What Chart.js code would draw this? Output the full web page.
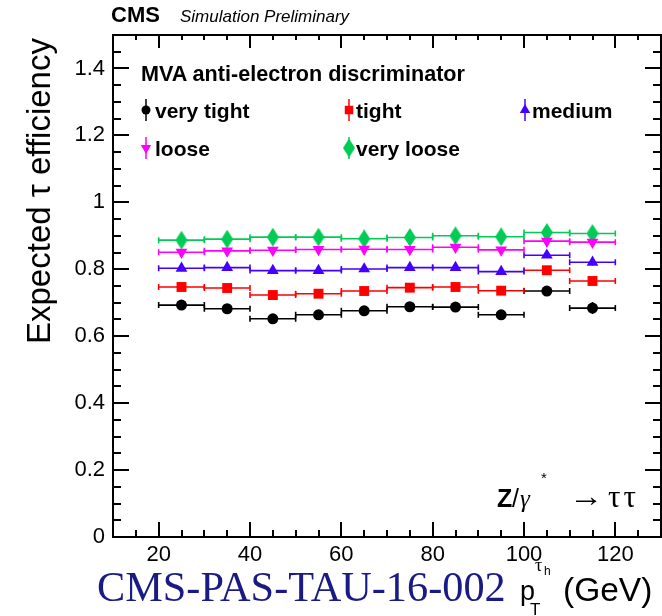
<!DOCTYPE html>
<html>
<head>
<meta charset="utf-8">
<script src="https://cdn.jsdelivr.net/npm/chart.js@4/dist/chart.umd.min.js"></script>
<style>
  html, body { margin:0; padding:0; background:#fff; }
  #wrap { position:relative; width:662px; height:616px; overflow:hidden; font-family:"Liberation Sans", Arial, sans-serif; }
  #c { position:absolute; left:0; top:0; }
  .t { position:absolute; white-space:nowrap; line-height:1; color:#000; }
  .b { font-weight:bold; }
</style>
</head>
<body>
<div id="wrap">
  <canvas id="c" width="662" height="616"></canvas>

  <div class="t b" style="left:111px;top:4px;font-size:22px">CMS</div>
  <div class="t" style="left:180px;top:8px;font-size:17px;font-style:italic">Simulation Preliminary</div>

  <div class="t b" style="left:141px;top:63px;font-size:21.6px">MVA anti-electron discriminator</div>
  <div class="t b" style="left:155px;top:100px;font-size:21px">very tight</div>
  <div class="t b" style="left:356px;top:100px;font-size:21px">tight</div>
  <div class="t b" style="left:532px;top:100px;font-size:21px">medium</div>
  <div class="t b" style="left:155px;top:138px;font-size:21px">loose</div>
  <div class="t b" style="left:356px;top:138px;font-size:21px">very loose</div>

  <div class="t b" style="left:497px;top:486px;font-size:25px">Z</div>
  <div class="t" style="left:512px;top:486px;font-size:25px">/</div>
  <div class="t" style="left:520px;top:486px;font-size:25px;font-family:'Liberation Serif',serif;font-style:italic">γ</div>
  <div class="t" style="left:541px;top:470px;font-size:15px">*</div>
  <div class="t" style="left:569px;top:481px;font-size:30px;font-family:'Liberation Serif',serif;transform:scaleX(1.15);transform-origin:0 0">→</div>
  <div class="t" style="left:608px;top:481px;font-size:31px;font-family:'Liberation Serif',serif;letter-spacing:3px">ττ</div>

  <div class="t" id="ytitle" style="font-size:33px">Expected τ efficiency</div>

  <div class="t" style="left:97px;top:566px;font-size:42.3px;font-family:'Liberation Serif','Times New Roman',serif;color:#1a1a85">CMS-PAS-TAU-16-002</div>
  <div class="t" style="left:520px;top:578px;font-size:27px">p</div>
  <div class="t" style="left:535px;top:556px;font-size:18px;font-family:'Liberation Serif',serif">τ</div>
  <div class="t" style="left:544px;top:565px;font-size:12px">h</div>
  <div class="t" style="left:530px;top:601px;font-size:17px">T</div>
  <div class="t" style="left:563px;top:573px;font-size:33.5px">(GeV)</div>
</div>

<script>
// bins in pT (GeV)
const binCenters = [25, 35, 45, 55, 65, 75, 85, 95, 105, 115];
const binHalfWidth = 5;

// efficiencies per working point
const veryTight = [0.693, 0.682, 0.652, 0.664, 0.676, 0.688, 0.687, 0.664, 0.735, 0.684];
const tight     = [0.747, 0.744, 0.723, 0.727, 0.735, 0.745, 0.747, 0.736, 0.797, 0.765];
const medium    = [0.803, 0.805, 0.796, 0.796, 0.801, 0.805, 0.805, 0.793, 0.842, 0.821];
const loose     = [0.851, 0.855, 0.857, 0.859, 0.860, 0.859, 0.866, 0.858, 0.884, 0.881];
const veryLoose = [0.887, 0.890, 0.896, 0.896, 0.891, 0.895, 0.900, 0.897, 0.910, 0.907];

// stat. uncertainties
const veryTightErr = [0.004, 0.004, 0.004, 0.004, 0.004, 0.004, 0.005, 0.006, 0.008, 0.018];
const tightErr     = [0.004, 0.004, 0.004, 0.004, 0.004, 0.004, 0.004, 0.005, 0.007, 0.012];
const mediumErr    = [0.003, 0.003, 0.003, 0.003, 0.003, 0.003, 0.004, 0.004, 0.006, 0.010];
const looseErr     = [0.003, 0.003, 0.003, 0.003, 0.003, 0.003, 0.003, 0.004, 0.005, 0.007];
const veryLooseErr = [0.003, 0.003, 0.003, 0.003, 0.003, 0.003, 0.003, 0.003, 0.004, 0.006];

const xTicks = [20, 40, 60, 80, 100, 120];
const yTicks = [0, 0.2, 0.4, 0.6, 0.8, 1.0, 1.2, 1.4];
const yTickLabels = ['0', '0.2', '0.4', '0.6', '0.8', '1', '1.2', '1.4'];

// elongated diamond marker (ROOT style 33)
function diamond(color, w, h){
  const cv = document.createElement('canvas');
  cv.width = w; cv.height = h;
  const g = cv.getContext('2d');
  g.fillStyle = color;
  g.beginPath();
  g.moveTo(w / 2, 0); g.lineTo(w, h / 2); g.lineTo(w / 2, h); g.lineTo(0, h / 2); g.closePath();
  g.fill();
  return cv;
}

const series = [
  { label:'very tight', data:veryTight, err:veryTightErr, color:'#000000', style:'circle', r:5.5, lr:4.5, rot:0, lx:146, ly:110 },
  { label:'tight',      data:tight,     err:tightErr,     color:'#ff0000', style:'rect', r:7, lr:6, rot:0, lx:349, ly:110 },
  { label:'medium',     data:medium,    err:mediumErr,    color:'#4400ff', style:'triangle', r:6.8, lr:6, rot:0, lx:525, ly:110 },
  { label:'loose',      data:loose,     err:looseErr,     color:'#ff00ff', style:'triangle', r:6.8, lr:6, rot:180, lx:146, ly:148 },
  { label:'very loose', data:veryLoose, err:veryLooseErr, color:'#00cc55', style:diamond('#00cc55', 12, 19), r:7, lr:7, rot:0, lx:349, ly:148 }
];

// horizontal bin-width bars + vertical stat. errors
const errorBars = {
  id:'errorBars',
  beforeDatasetsDraw(chart){
    const { ctx, scales:{ x, y } } = chart;
    ctx.save();
    ctx.lineWidth = 1.6;
    series.forEach(s => {
      ctx.strokeStyle = s.color;
      s.data.forEach((v, i) => {
        const x0 = x.getPixelForValue(binCenters[i] - binHalfWidth);
        const x1 = x.getPixelForValue(binCenters[i] + binHalfWidth);
        const xc = x.getPixelForValue(binCenters[i]);
        const yp = y.getPixelForValue(v);
        ctx.beginPath();
        ctx.moveTo(x0, yp); ctx.lineTo(x1, yp);
        ctx.moveTo(x0, yp - 3); ctx.lineTo(x0, yp + 3);
        ctx.moveTo(x1, yp - 3); ctx.lineTo(x1, yp + 3);
        ctx.moveTo(xc, y.getPixelForValue(v - s.err[i]));
        ctx.lineTo(xc, y.getPixelForValue(v + s.err[i]));
        ctx.stroke();
      });
    });
    ctx.restore();
  }
};

// ROOT-like frame with inward ticks on all four sides
const frameTicks = {
  id:'frameTicks',
  afterDraw(chart){
    const { ctx, chartArea:a, scales:{ x, y } } = chart;
    ctx.save();
    ctx.strokeStyle = '#000';
    ctx.lineWidth = 2;
    ctx.strokeRect(a.left, a.top, a.right - a.left, a.bottom - a.top);
    ctx.beginPath();
    for (let v = 10; v <= 130; v += 5){
      const px = Math.round(x.getPixelForValue(v));
      const L = v % 20 === 0 ? 15 : 7;
      ctx.moveTo(px, a.bottom); ctx.lineTo(px, a.bottom - L);
      ctx.moveTo(px, a.top); ctx.lineTo(px, a.top + L - 2);
    }
    for (let i = 0; i <= 30; i++){
      const py = Math.round(y.getPixelForValue(i * 0.05));
      const L = i % 4 === 0 ? 16 : 8;
      ctx.moveTo(a.left, py); ctx.lineTo(a.left + L, py);
      ctx.moveTo(a.right, py); ctx.lineTo(a.right - L, py);
    }
    ctx.stroke();
    ctx.restore();
  }
};

// legend markers with a vertical error stroke
const legendMarks = {
  id:'legendMarks',
  afterDraw(chart){
    const ctx = chart.ctx;
    ctx.save();
    series.forEach(s => {
      ctx.strokeStyle = s.color;
      ctx.fillStyle = s.color;
      ctx.lineWidth = 1.5;
      ctx.beginPath();
      ctx.moveTo(s.lx, s.ly - 11); ctx.lineTo(s.lx, s.ly + 11);
      ctx.stroke();
      Chart.helpers.drawPoint(ctx, { pointStyle:s.style, radius:s.lr, rotation:s.rot, borderWidth:0 }, s.lx, s.ly);
    });
    ctx.restore();
  }
};

const tickFont = { family:'Liberation Sans, Arial, sans-serif', size:22 };

new Chart(document.getElementById('c'), {
  type:'scatter',
  data:{
    datasets: series.map(s => ({
      label:s.label,
      data:s.data.map((v, i) => ({ x:binCenters[i], y:v })),
      pointStyle:s.style,
      pointRadius:s.r,
      pointRotation:s.rot,
      pointBackgroundColor:s.color,
      pointBorderColor:s.color,
      pointBorderWidth:0,
      showLine:false
    }))
  },
  options:{
    responsive:false,
    animation:false,
    devicePixelRatio:1,
    layout:{ autoPadding:false, padding:{ top:35, right:1, left:0, bottom:0 } },
    plugins:{ legend:{ display:false }, tooltip:{ enabled:false } },
    scales:{
      x:{
        type:'linear', min:10, max:130,
        grid:{ display:false, drawTicks:false }, border:{ display:false },
        afterBuildTicks:s => { s.ticks = xTicks.map(v => ({ value:v })); },
        afterFit:s => { s.height = 79; s.paddingLeft = 0; s.paddingRight = 0; },
        ticks:{ color:'#000', font:tickFont, padding:5, autoSkip:false, maxRotation:0, callback:v => String(v) }
      },
      y:{
        type:'linear', min:0, max:1.5,
        grid:{ display:false, drawTicks:false }, border:{ display:false },
        afterBuildTicks:s => { s.ticks = yTicks.map(v => ({ value:v })); },
        afterFit:s => { s.width = 113; s.paddingTop = 0; s.paddingBottom = 0; },
        ticks:{ color:'#000', font:tickFont, padding:8, callback:(v, i) => yTickLabels[i] }
      }
    }
  },
  plugins:[errorBars, frameTicks, legendMarks]
});

// rotated y title, right-aligned to the top of the frame
const yt = document.getElementById('ytitle');
yt.style.transformOrigin = '0 0';
yt.style.transform = 'rotate(-90deg)';
yt.style.left = '22px';
yt.style.top = (38 + yt.offsetWidth) + 'px';
</script>
</body>
</html>
